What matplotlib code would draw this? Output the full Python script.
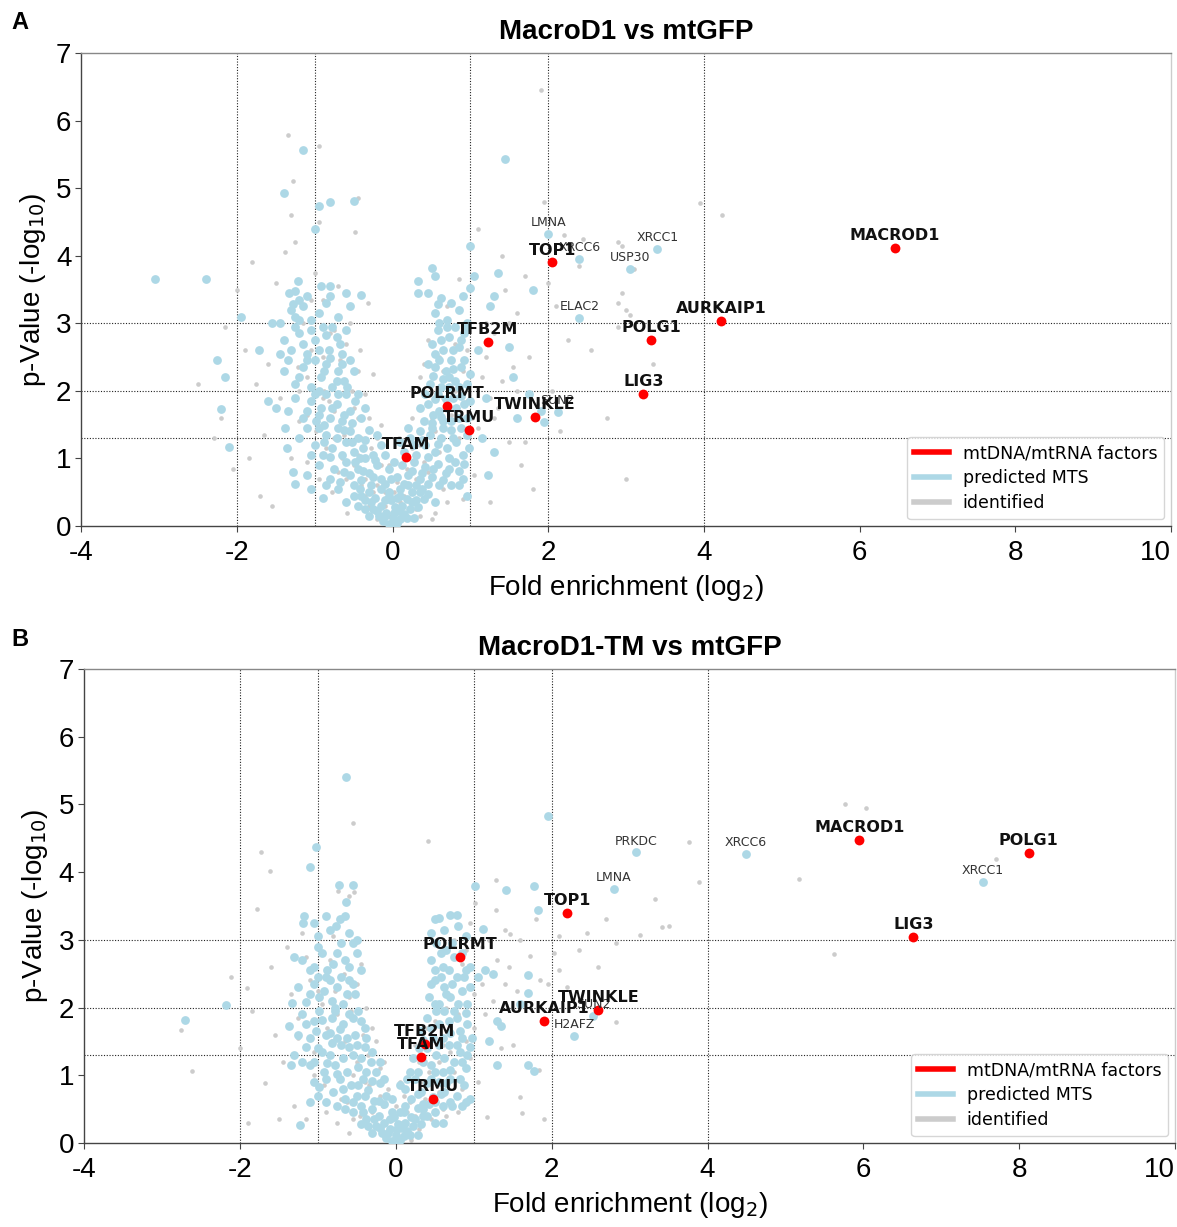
import matplotlib
matplotlib.use('Agg')
import matplotlib.pyplot as plt
from matplotlib.lines import Line2D

plt.rcParams['axes.unicode_minus'] = False

# ---------------- Panel A data (x = log2 fold enrichment, y = -log10 p) -------------
a_mts = [
    (-3.05, 3.65), (-2.4, 3.65), (-2.25, 2.45), (-2.15, 2.2), (-2.2, 1.73), (-2.1, 1.17),
    (-1.95, 3.1), (-1.72, 2.6), (-1.6, 1.85), (-1.55, 3.0), (-1.5, 1.75), (-1.45, 2.55),
    (-1.38, 1.45), (-1.33, 3.45), (-1.36, 1.15), (-1.28, 0.8), (-1.25, 0.62),
    (-1.15, 5.57), (-1.4, 4.93), (-0.95, 4.73), (-0.8, 4.8), (-0.5, 4.81), (-1.0, 4.4),
    (-1.22, 3.62), (-1.25, 3.48), (-1.2, 3.35), (-1.28, 3.28), (-0.92, 3.55), (-0.8, 3.55),
    (-0.8, 3.4), (-0.6, 3.45), (-0.4, 3.42), (-1.45, 3.0),
    (1.45, 5.43), (1.0, 4.15), (0.5, 3.82), (0.55, 3.7), (0.45, 3.45), (0.33, 3.62),
    (0.32, 3.45), (0.62, 3.38), (0.58, 3.28), (1.05, 3.7), (1.0, 3.52), (1.35, 3.75),
    (1.3, 3.4), (1.25, 3.25), (1.8, 3.5), (1.5, 2.65), (1.55, 2.2), (1.75, 1.95), (1.9, 1.7),
    (2.12, 1.69), (1.95, 1.54), (1.2, 1.9), (1.15, 1.3), (1.3, 1.1), (1.22, 0.75), (0.85, 0.6),
    (2.0, 4.32), (2.4, 3.95), (3.05, 3.8), (3.4, 4.1), (2.4, 3.08), (1.6, 1.6), (0.95, 0.45),
    (-0.9, 0.42),
    (-0.25, 0.25), (-0.18, 0.15), (-0.12, 0.08), (-0.05, 0.03), (0.0, 0.0), (0.05, 0.05),
    (0.1, 0.1), (0.15, 0.18), (0.22, 0.25), (-0.08, 0.2), (0.08, 0.22), (0.0, 0.12),
    (-0.15, 0.3), (0.12, 0.3), (0.03, 0.28), (-0.3, 0.15), (0.28, 0.12), (-0.02, 0.38),
    (-0.5, 0.45), (-0.42, 0.55), (-0.35, 0.38), (-0.3, 0.5), (-0.22, 0.42), (-0.15, 0.55),
    (-0.1, 0.38), (-0.05, 0.5), (0.05, 0.42), (0.1, 0.55), (0.18, 0.4), (0.25, 0.5),
    (0.3, 0.38), (0.38, 0.55), (0.45, 0.48), (-0.6, 0.35), (0.55, 0.35), (-0.28, 0.6), (0.2, 0.6),
    (-0.75, 0.85), (-0.68, 0.65), (-0.6, 0.95), (-0.55, 0.75), (-0.45, 0.85), (-0.4, 0.68),
    (-0.35, 1.0), (-0.3, 0.78), (-0.2, 0.9), (-0.15, 0.7), (-0.05, 0.85), (0.05, 0.72),
    (0.12, 0.9), (0.2, 0.75), (0.28, 0.95), (0.35, 0.7), (0.42, 0.88), (0.5, 0.72),
    (0.58, 0.92), (0.65, 0.68), (0.72, 0.85), (0.8, 0.95), (-0.85, 0.6), (0.9, 0.7), (-0.95, 0.9),
    (-1.0, 1.2), (-0.9, 1.05), (-0.85, 1.35), (-0.78, 1.15), (-0.7, 1.45), (-0.65, 1.05),
    (-0.6, 1.25), (-0.55, 1.4), (-0.5, 1.1), (-0.45, 1.3), (-0.38, 1.15), (-0.3, 1.42),
    (-0.25, 1.05), (-0.15, 1.2), (0.15, 1.1), (0.22, 1.3), (0.3, 1.05), (0.35, 1.4),
    (0.42, 1.2), (0.5, 1.45), (0.55, 1.1), (0.62, 1.3), (0.7, 1.15), (0.75, 1.42),
    (0.82, 1.25), (0.9, 1.05), (0.95, 1.35), (-1.1, 1.45),
    (-1.15, 1.6), (-1.05, 1.85), (-0.98, 1.55), (-0.92, 1.75), (-0.85, 1.95), (-0.8, 1.6),
    (-0.72, 1.8), (-0.65, 1.55), (-0.6, 1.95), (-0.55, 1.7), (-0.48, 1.85), (-0.4, 1.6),
    (0.4, 1.55), (0.45, 1.8), (0.52, 1.65), (0.58, 1.95), (0.65, 1.55), (0.7, 1.75),
    (0.78, 1.9), (0.85, 1.6), (0.92, 1.8), (0.6, 1.7), (-1.35, 1.7),
    (-1.25, 2.1), (-1.15, 2.35), (-1.05, 2.05), (-1.0, 2.45), (-0.92, 2.2), (-0.85, 2.4),
    (-0.78, 2.05), (-0.7, 2.3), (-0.62, 2.15), (-0.55, 2.45), (0.48, 2.1), (0.55, 2.35),
    (0.62, 2.05), (0.68, 2.3), (0.75, 2.45), (0.8, 2.15), (0.88, 2.35), (0.95, 2.1),
    (0.72, 2.2), (-1.4, 2.3),
    (-1.3, 2.6), (-1.2, 2.85), (-1.1, 2.55), (-1.0, 2.75), (-0.9, 2.95), (-0.82, 2.6),
    (-0.72, 2.8), (-0.65, 2.55), (0.5, 2.7), (0.58, 2.9), (0.65, 2.6), (0.72, 2.8),
    (0.8, 2.95), (0.85, 2.65), (0.92, 2.85), (1.1, 2.6),
    (-1.25, 3.1), (-1.15, 3.25), (-1.05, 3.05), (-0.95, 3.15), (-0.7, 3.1), (0.55, 3.15),
    (0.7, 3.05), (0.85, 3.2), (0.95, 3.0),
    (-0.35, 0.25), (-0.28, 0.35), (-0.2, 0.22), (-0.1, 0.15), (0.02, 0.2), (0.18, 0.12),
    (0.25, 0.35), (0.32, 0.28), (-0.4, 0.45), (0.4, 0.4), (-0.45, 0.3), (0.35, 0.5),
    (-0.05, 0.45), (0.1, 0.45),
    (-0.8, 0.7), (-0.7, 0.55), (-0.62, 0.8), (-0.5, 0.6), (-0.48, 0.95), (-0.38, 0.82),
    (-0.25, 0.72), (-0.22, 0.98), (-0.1, 0.62), (-0.02, 0.7), (0.02, 0.95), (0.15, 0.62),
    (0.25, 0.82), (0.3, 0.6), (0.38, 0.78), (0.45, 0.62), (0.52, 0.85), (0.6, 0.6),
    (0.68, 0.78), (0.75, 0.6), (0.85, 0.82), (0.92, 0.92), (-1.05, 0.55), (-1.1, 0.75),
    (-0.95, 1.45), (-0.88, 1.25), (-0.8, 1.02), (-0.72, 1.3), (-0.62, 1.42), (-0.52, 1.25),
    (-0.42, 1.0), (-0.35, 1.28), (-0.2, 1.35), (-0.1, 1.05), (0.1, 1.25), (0.2, 1.45),
    (0.28, 1.2), (0.38, 1.28), (0.45, 1.02), (0.48, 1.35), (0.58, 1.22), (0.65, 1.45),
    (0.72, 1.0), (0.78, 1.3), (0.88, 1.45), (0.98, 1.15), (-1.05, 1.05), (-1.2, 1.3),
    (-1.25, 1.9), (-1.1, 1.7), (-1.0, 1.95), (-0.95, 1.65), (-0.88, 1.5), (-0.78, 1.75),
    (-0.7, 1.95), (-0.62, 1.65), (-0.52, 1.52), (-0.45, 1.95), (-0.35, 1.75), (0.35, 1.75),
    (0.42, 1.95), (0.5, 1.52), (0.55, 1.88), (0.62, 1.62), (0.68, 1.88), (0.75, 1.55),
    (0.82, 1.75), (0.88, 1.92), (0.95, 1.6), (1.0, 1.85),
    (-1.35, 2.45), (-1.2, 2.2), (-1.1, 2.45), (-0.95, 2.0), (-0.88, 2.3), (-0.8, 2.48),
    (-0.72, 2.15), (-0.65, 2.4), (-0.58, 2.05), (-0.5, 2.3), (0.45, 2.4), (0.52, 2.22),
    (0.6, 2.45), (0.65, 2.18), (0.72, 2.05), (0.78, 2.32), (0.85, 2.05), (0.92, 2.45),
    (1.0, 2.25),
    (-1.4, 2.75), (-1.25, 2.95), (-1.15, 2.7), (-1.05, 2.9), (-0.95, 2.6), (-0.85, 2.82),
    (-0.78, 2.95), (-0.68, 2.7), (-0.6, 2.9), (0.55, 2.55), (0.62, 2.75), (0.7, 2.95),
    (0.78, 2.6), (0.88, 2.75), (0.95, 2.95),
    (-1.3, 3.2), (-1.2, 3.05), (-1.1, 3.4), (-0.85, 3.3), (-0.55, 3.25), (0.6, 3.0),
    (0.75, 3.3), (0.9, 3.4),
]

a_identified = [
    (-2.5, 2.1), (-2.3, 1.3), (-2.2, 1.6), (-2.15, 2.95), (-2.05, 0.85), (-2.0, 3.5),
    (-1.9, 2.6), (-1.85, 1.0), (-1.8, 3.9), (-1.75, 2.1), (-1.7, 0.45), (-1.65, 1.35),
    (-1.6, 2.4), (-1.55, 0.3), (-1.5, 3.6), (-1.45, 1.9), (-1.4, 2.75), (-1.38, 4.05),
    (-1.35, 5.78), (-1.3, 4.6), (-1.28, 5.1), (-1.25, 4.2), (-1.22, 2.35), (-1.2, 1.55),
    (-1.15, 3.0), (-1.1, 0.95), (-1.05, 2.6), (-1.0, 3.75), (-0.98, 1.4), (-0.95, 5.63),
    (-0.95, 4.5), (-0.9, 3.35), (-0.88, 2.0), (-0.85, 1.15), (-0.8, 2.85), (-0.78, 0.5),
    (-0.75, 1.7), (-0.7, 3.55), (-0.68, 2.45), (-0.45, 4.85), (-0.62, 1.35), (-0.58, 0.2),
    (-0.55, 3.0), (-0.52, 2.0), (-0.5, 0.9), (-0.48, 4.35), (-0.45, 1.6), (-0.42, 2.6),
    (-0.4, 0.6), (-0.35, 1.95), (-0.32, 3.3), (-0.3, 0.3), (-0.28, 1.15), (-0.25, 2.25),
    (-0.2, 0.6), (-0.15, 1.5), (-0.1, 0.3), (-0.05, 0.9), (0.02, 0.5), (0.08, 1.3),
    (0.12, 0.15), (0.18, 0.85), (0.25, 1.6), (0.3, 0.25), (0.35, 2.2), (0.4, 0.95),
    (0.45, 2.75), (0.5, 0.1), (0.55, 1.4), (0.6, 2.5), (0.65, 0.55), (0.7, 3.25),
    (0.75, 1.0), (0.8, 2.0), (0.85, 3.65), (0.9, 0.4), (0.95, 2.6), (1.0, 3.55),
    (1.02, 1.6), (1.1, 4.4), (1.15, 2.2), (1.2, 3.0), (1.25, 0.35), (1.3, 2.85),
    (1.35, 1.75), (1.4, 4.0), (1.45, 3.5), (1.5, 1.25), (1.55, 2.35), (1.6, 3.15),
    (1.65, 0.9), (1.7, 3.7), (1.75, 2.5), (1.8, 0.55), (1.85, 1.8), (1.9, 6.45),
    (1.95, 4.8), (2.0, 3.6), (2.05, 2.0), (2.1, 3.25), (2.15, 1.4), (2.2, 4.3),
    (2.25, 2.75), (2.4, 3.85), (2.45, 4.25), (2.55, 2.6), (2.9, 4.2), (2.75, 1.6),
    (2.95, 4.15), (2.9, 3.3), (2.9, 2.95), (3.0, 0.7), (2.95, 3.45), (3.1, 3.8),
    (3.0, 3.2), (3.05, 3.12), (3.95, 4.78), (4.23, 4.6), (3.35, 2.4), (-0.65, 1.0),
    (-0.35, 0.45), (-0.2, 0.1), (0.15, 0.45), (0.35, 0.15), (-0.6, 0.7), (-0.9, 1.9),
    (-1.1, 2.2), (-0.75, 2.9), (0.4, 2.4), (0.65, 1.9), (0.25, 1.15), (-0.45, 1.05),
    (-1.3, 1.0), (-1.2, 2.0), (-1.1, 1.65), (-1.05, 3.35), (-0.95, 0.7), (-0.9, 2.5),
    (-0.82, 1.85), (-0.75, 1.3), (-0.7, 0.8), (-0.65, 2.15), (-0.6, 2.7), (-0.55, 1.45),
    (-0.5, 1.75), (-0.45, 2.3), (-0.4, 1.3), (-0.35, 0.7), (-0.3, 1.6), (-0.25, 0.5),
    (-0.2, 1.3), (-0.15, 0.9), (-0.1, 0.5), (-0.05, 0.15), (0.05, 0.65), (0.1, 0.35),
    (0.2, 1.0), (0.25, 0.1), (0.3, 0.7), (0.35, 1.2), (0.45, 0.8), (0.5, 1.6),
    (0.55, 0.2), (0.6, 1.1), (0.65, 2.3), (0.7, 0.35), (0.75, 1.65), (0.8, 2.7),
    (0.85, 1.3), (0.9, 2.3), (0.95, 1.85), (1.05, 0.75), (1.1, 1.45), (1.2, 2.5),
    (1.3, 1.6), (1.4, 2.15), (1.5, 3.0), (1.6, 2.0), (1.7, 1.25), (1.25, 1.9),
]

# red: mtDNA/mtRNA factors
a_factor_names = ['TOP1', 'MACROD1', 'AURKAIP1', 'POLG1', 'LIG3', 'TFB2M',
                  'POLRMT', 'TWINKLE', 'TRMU', 'TFAM']
a_factor_x = [2.05, 6.45, 4.22, 3.32, 3.22, 1.22, 0.7, 1.83, 0.98, 0.17]
a_factor_y = [3.9, 4.12, 3.04, 2.75, 1.95, 2.72, 1.78, 1.62, 1.42, 1.02]

# small labelled MTS proteins
a_small_names = ['LMNA', 'XRCC6', 'USP30', 'XRCC1', 'ELAC2', 'SUN2']
a_small_x = [2.0, 2.4, 3.05, 3.4, 2.4, 2.12]
a_small_y = [4.32, 3.95, 3.8, 4.1, 3.08, 1.69]

# ---------------- Panel B data -------------
b_mts = [
    (-0.64, 5.4), (1.95, 4.83), (-1.02, 4.37), (-1.1, 4.08), (-0.73, 3.81), (-0.55, 3.81),
    (-0.64, 3.56), (1.02, 3.8), (1.41, 3.74), (1.77, 3.79), (1.82, 3.44), (-2.7, 1.81),
    (-2.18, 2.04), (-1.23, 0.26), (1.3, 1.15), (1.77, 1.06), (1.7, 1.15), (2.29, 1.58),
    (2.53, 1.88), (3.08, 4.29), (4.49, 4.27), (7.53, 3.86), (2.8, 3.75), (1.6, 2.05),
    (1.2, 1.5),
    (-0.25, 0.25), (-0.18, 0.15), (-0.12, 0.08), (-0.05, 0.03), (0.0, 0.0), (0.05, 0.05),
    (0.1, 0.1), (0.15, 0.18), (0.22, 0.25), (-0.08, 0.2), (0.08, 0.22), (0.0, 0.12),
    (-0.15, 0.3), (0.12, 0.3), (0.03, 0.28), (-0.3, 0.15), (0.28, 0.12), (-0.02, 0.38),
    (-0.55, 0.45), (-0.45, 0.55), (-0.38, 0.35), (-0.3, 0.5), (-0.22, 0.4), (-0.15, 0.58),
    (-0.08, 0.35), (0.05, 0.45), (0.12, 0.55), (0.2, 0.38), (0.28, 0.52), (0.35, 0.4),
    (0.42, 0.58), (0.5, 0.45), (0.6, 0.55), (0.7, 0.6), (-0.65, 0.5), (0.85, 0.55),
    (-0.8, 0.75), (-0.72, 0.95), (-0.65, 0.65), (-0.58, 0.85), (-0.5, 0.7), (-0.42, 0.95),
    (-0.35, 0.78), (-0.28, 0.62), (-0.2, 0.88), (-0.12, 0.7), (0.12, 0.8), (0.2, 0.65),
    (0.25, 0.95), (0.32, 0.75), (0.4, 0.88), (0.48, 0.68), (0.55, 0.9), (0.62, 0.75),
    (0.7, 0.95), (0.78, 0.7), (0.88, 0.85), (0.95, 0.65), (-0.9, 0.95), (-1.0, 0.7),
    (-1.05, 0.9),
    (-1.1, 1.15), (-1.0, 1.4), (-0.92, 1.05), (-0.85, 1.3), (-0.78, 1.15), (-0.7, 1.45),
    (-0.62, 1.05), (-0.55, 1.3), (-0.48, 1.12), (-0.4, 1.42), (-0.32, 1.2), (-0.25, 1.05),
    (0.22, 1.25), (0.28, 1.05), (0.4, 1.4), (0.45, 1.15), (0.52, 1.3), (0.6, 1.05),
    (0.68, 1.45), (0.75, 1.2), (0.82, 1.35), (0.9, 1.1), (0.95, 1.42), (-1.3, 1.3),
    (-1.35, 1.15), (-1.2, 1.2),
    (-1.1, 1.55), (-1.05, 1.8), (-0.98, 1.95), (-0.9, 1.6), (-0.82, 1.85), (-0.75, 1.55),
    (-0.68, 1.75), (-0.6, 1.9), (-0.52, 1.6), (-0.45, 1.8), (-0.38, 1.55), (0.32, 1.65),
    (0.4, 1.85), (0.48, 1.55), (0.55, 1.75), (0.62, 1.95), (0.7, 1.62), (0.78, 1.85),
    (0.85, 1.55), (0.92, 1.75), (-1.37, 1.73), (-1.2, 1.9), (1.3, 1.8), (1.35, 1.72),
    (-1.15, 2.08), (-1.05, 2.35), (-0.98, 2.15), (-0.9, 2.45), (-0.82, 2.1), (-0.75, 2.3),
    (-0.68, 2.05), (-0.6, 2.4), (-0.52, 2.2), (0.42, 2.15), (0.5, 2.4), (0.55, 2.05),
    (0.62, 2.3), (0.7, 2.15), (0.78, 2.45), (0.85, 2.25), (0.92, 2.05), (-1.33, 2.07),
    (1.05, 2.45), (1.25, 2.5), (1.7, 2.48), (1.7, 2.22),
    (-1.3, 2.75), (-1.1, 2.55), (-1.0, 2.9), (-0.8, 2.65), (-0.7, 2.95), (-0.6, 2.6),
    (-0.5, 2.8), (-0.45, 2.55), (0.45, 2.7), (0.52, 2.95), (0.6, 2.6), (0.65, 2.85),
    (0.75, 2.75), (0.95, 2.6), (1.15, 2.55),
    (-1.18, 3.35), (-1.19, 3.25), (-1.0, 3.05), (-0.85, 3.15), (-0.72, 3.3), (-0.77, 3.2),
    (-0.6, 3.1), (-0.5, 3.0), (0.56, 3.32), (0.69, 3.37), (0.78, 3.37), (1.12, 3.16),
    (0.45, 3.1), (0.9, 3.05),
    (-0.35, 0.25), (-0.28, 0.35), (-0.2, 0.22), (-0.1, 0.15), (0.02, 0.2), (0.18, 0.12),
    (0.25, 0.35), (0.32, 0.28), (-0.42, 0.45), (0.4, 0.4), (-0.45, 0.28), (0.35, 0.5),
    (-0.05, 0.45), (0.1, 0.45), (0.5, 0.3), (0.6, 0.3),
    (-0.9, 0.6), (-0.75, 0.55), (-0.68, 0.8), (-0.55, 0.6), (-0.48, 0.85), (-0.4, 0.7),
    (-0.3, 0.92), (-0.22, 0.62), (-0.15, 0.95), (-0.05, 0.65), (0.05, 0.85), (0.15, 0.95),
    (0.28, 0.72), (0.35, 0.58), (0.45, 0.95), (0.5, 0.6), (0.58, 0.72), (0.65, 0.88),
    (0.72, 0.55), (0.82, 0.95), (0.9, 0.6), (-1.1, 0.6), (-0.98, 0.82),
    (-1.15, 1.42), (-1.05, 1.2), (-0.95, 1.35), (-0.88, 1.18), (-0.82, 1.48), (-0.75, 1.02),
    (-0.68, 1.25), (-0.6, 1.42), (-0.5, 1.45), (-0.45, 1.25), (-0.38, 1.05), (-0.3, 1.35),
    (-0.2, 1.2), (0.18, 1.05), (0.3, 1.4), (0.35, 1.2), (0.5, 1.05), (0.55, 1.45),
    (0.62, 1.25), (0.7, 1.08), (0.78, 1.45), (0.85, 1.2), (0.92, 1.3),
    (-1.25, 1.6), (-1.15, 1.75), (-1.02, 1.65), (-0.95, 1.82), (-0.85, 1.62), (-0.78, 1.95),
    (-0.72, 1.68), (-0.62, 1.55), (-0.55, 1.85), (-0.48, 1.95), (-0.4, 1.7), (0.35, 1.52),
    (0.45, 1.7), (0.52, 1.95), (0.6, 1.55), (0.68, 1.8), (0.75, 1.95), (0.82, 1.65),
    (0.9, 1.92), (0.98, 1.55),
    (-1.25, 2.3), (-1.1, 2.2), (-1.0, 2.45), (-0.92, 2.25), (-0.85, 2.4), (-0.78, 2.0),
    (-0.7, 2.45), (-0.62, 2.2), (-0.55, 2.35), (0.45, 2.35), (0.5, 2.05), (0.58, 2.45),
    (0.65, 2.2), (0.72, 2.35), (0.8, 2.05), (0.88, 2.45), (0.95, 2.3),
    (-1.2, 2.7), (-1.05, 2.6), (-0.95, 2.8), (-0.88, 2.55), (-0.75, 2.8), (-0.65, 2.7),
    (-0.55, 2.95), (0.5, 2.55), (0.58, 2.8), (0.68, 2.55), (0.72, 2.95), (0.85, 2.8),
    (0.9, 2.55),
    (-1.05, 3.25), (-0.9, 3.35), (-0.65, 3.35), (0.5, 3.3), (0.62, 3.15), (0.8, 3.2),
]

b_identified = [
    (-2.75, 1.67), (-2.62, 1.06), (-2.12, 2.45), (-1.91, 2.29), (-1.68, 0.89), (-1.5, 0.36),
    (-1.73, 4.3), (-1.62, 4.02), (-0.55, 4.72), (0.41, 4.46), (-1.78, 3.46), (1.29, 3.88),
    (1.29, 3.44), (1.02, 3.55), (-0.74, 3.72), (-0.6, 3.65), (-0.53, 3.7), (5.76, 5.0),
    (6.04, 4.95), (3.76, 4.45), (3.89, 3.85), (3.32, 3.6), (5.18, 3.9), (7.7, 4.2),
    (3.42, 3.19), (3.51, 3.2), (3.13, 3.07), (2.82, 2.96), (5.62, 2.79), (2.82, 1.79),
    (-1.6, 2.6), (-1.45, 1.2), (-1.4, 2.9), (-1.3, 0.55), (-1.25, 1.85), (-1.2, 3.1),
    (-1.15, 0.35), (-1.1, 2.4), (-1.05, 1.0), (-0.95, 2.05), (-0.9, 0.45), (-0.85, 2.7),
    (-0.82, 1.5), (-0.78, 2.25), (-0.75, 0.3), (-0.7, 1.25), (-0.66, 2.5), (-0.62, 0.6),
    (-0.58, 1.95), (-0.55, 1.0), (-0.5, 2.35), (-0.46, 0.4), (-0.42, 1.6), (-0.38, 2.0),
    (-0.34, 0.85), (-0.3, 1.7), (-0.25, 0.25), (-0.2, 1.1), (-0.16, 0.55), (-0.1, 0.8),
    (-0.05, 0.2), (0.05, 0.3), (0.1, 0.7), (0.15, 0.45), (0.2, 1.05), (0.25, 1.45),
    (0.3, 0.2), (0.35, 0.9), (0.4, 1.7), (0.45, 0.35), (0.5, 2.55), (0.55, 1.2),
    (0.6, 0.5), (0.65, 2.0), (0.7, 1.35), (0.75, 3.0), (0.8, 0.45), (0.85, 2.65),
    (0.9, 1.5), (0.95, 3.25), (1.0, 2.2), (1.05, 0.9), (1.1, 2.9), (1.15, 1.9),
    (1.17, 0.39), (1.3, 2.7), (1.4, 2.35), (1.5, 1.45), (1.46, 3.09), (1.6, 0.68),
    (1.62, 0.44), (1.72, 2.76), (1.84, 1.07), (1.8, 3.3), (1.85, 2.4), (1.9, 0.35),
    (2.03, 2.8), (2.1, 3.05), (2.2, 2.3), (2.35, 2.85), (2.45, 3.1), (2.6, 2.6),
    (2.7, 3.3), (1.4, 3.15), (0.2, 0.05), (-0.6, 0.15), (-1.85, 1.95), (-1.9, 0.3),
    (-2.0, 1.4), (-1.55, 1.6),
    (-1.35, 2.2), (-1.25, 1.55), (-1.15, 2.75), (-1.05, 1.35), (-1.0, 2.25), (-0.92, 0.85),
    (-0.88, 1.7), (-0.8, 3.05), (-0.75, 1.9), (-0.7, 0.65), (-0.65, 1.5), (-0.6, 2.15),
    (-0.55, 0.35), (-0.5, 1.2), (-0.45, 2.65), (-0.4, 0.9), (-0.35, 1.3), (-0.3, 0.45),
    (-0.25, 1.5), (-0.2, 0.7), (-0.15, 1.2), (-0.1, 0.35), (0.0, 0.55), (0.05, 0.9),
    (0.12, 0.2), (0.18, 0.6), (0.25, 0.4), (0.3, 1.2), (0.38, 0.65), (0.42, 1.05),
    (0.5, 1.8), (0.55, 0.75), (0.6, 1.45), (0.65, 0.4), (0.7, 2.55), (0.75, 1.05),
    (0.8, 1.9), (0.85, 0.8), (0.9, 2.85), (0.95, 1.25), (1.0, 1.7), (1.1, 2.35),
    (1.2, 3.0), (1.25, 2.1), (1.35, 1.4), (1.45, 2.6), (1.55, 2.25), (1.6, 3.0),
    (1.95, 2.35), (2.1, 2.55),
]

b_factor_names = ['MACROD1', 'POLG1', 'LIG3', 'TOP1', 'POLRMT', 'TWINKLE',
                  'AURKAIP1', 'TFB2M', 'TFAM', 'TRMU']
b_factor_x = [5.95, 8.12, 6.64, 2.2, 0.82, 2.6, 1.9, 0.37, 0.33, 0.48]
b_factor_y = [4.47, 4.28, 3.04, 3.4, 2.75, 1.97, 1.8, 1.46, 1.27, 0.65]

b_small_names = ['PRKDC', 'XRCC6', 'XRCC1', 'LMNA', 'SUN2', 'H2AFZ']
b_small_x = [3.08, 4.49, 7.53, 2.8, 2.53, 2.29]
b_small_y = [4.29, 4.27, 3.86, 3.75, 1.88, 1.58]

vlines = [-2, -1, 1, 2, 4]
hlines = [1.3, 2, 3]
x_ticks = [-4, -2, 0, 2, 4, 6, 8, 10]
y_ticks = [0, 1, 2, 3, 4, 5, 6, 7]
legend_labels = ['mtDNA/mtRNA factors', 'predicted MTS', 'identified']

RED = '#ff0000'
BLUE = '#add8e6'
GRAY = '#cccccc'
SANS = 'Liberation Sans'


def panel(ax, gray, blue, fn, fx, fy, sn, sx, sy, title):
    for v in vlines:
        ax.axvline(v, color='#222222', ls=(0, (1, 1.5)), lw=0.8, zorder=1)
    for h in hlines:
        ax.axhline(h, color='#222222', ls=(0, (1, 1.5)), lw=0.8, zorder=1)
    gx, gy = zip(*gray)
    bx, by = zip(*blue)
    ax.scatter(gx, gy, s=11, color=GRAY, lw=0, zorder=2)
    ax.scatter(bx, by, s=40, color=BLUE, lw=0, zorder=3)
    ax.scatter(fx, fy, s=50, color=RED, lw=0, zorder=5)
    for n, x, y in zip(sn, sx, sy):
        ax.annotate(n, (x, y), xytext=(0, 3.5), textcoords='offset points',
                    ha='center', va='bottom', fontsize=9, color='#333333',
                    family='DejaVu Sans', zorder=6)
    for n, x, y in zip(fn, fx, fy):
        ax.annotate(n, (x, y), xytext=(0, 3.5), textcoords='offset points',
                    ha='center', va='bottom', fontsize=11.5, fontweight='bold',
                    color='#111111', family='DejaVu Sans', zorder=7)
    ax.set_xlim(-4, 10)
    ax.set_ylim(0, 7)
    ax.set_xticks(x_ticks)
    ax.set_yticks(y_ticks)
    xl = ax.set_xticklabels([str(t) for t in x_ticks], family=SANS, fontsize=20)
    xl[-1].set_horizontalalignment('right')
    ax.set_yticklabels([str(t) for t in y_ticks], family=SANS, fontsize=20)
    ax.tick_params(axis='both', length=4, width=0.8, color='#444444', pad=3)
    ax.tick_params(axis='x', pad=6)
    ax.spines['left'].set_color('#444444')
    ax.spines['bottom'].set_color('#444444')
    ax.spines['top'].set_color('#888888')
    ax.spines['right'].set_color('#cccccc')
    for sp in ax.spines.values():
        sp.set_linewidth(1.0)
    ax.set_xlabel('Fold enrichment (log$_2$)', family=SANS, fontsize=20, labelpad=5)
    ax.set_ylabel('p-Value (-log$_{10}$)', family=SANS, fontsize=20, labelpad=6)
    ax.set_title(title, family=SANS, fontsize=20, fontweight='bold', pad=10)
    handles = [Line2D([], [], color=c, lw=4) for c in (RED, BLUE, GRAY)]
    leg = ax.legend(handles, legend_labels, loc='lower right', fontsize=12.5,
                    frameon=True, fancybox=True, edgecolor='#cccccc',
                    borderaxespad=0.4, handlelength=2.0, labelspacing=0.4)
    leg.set_zorder(10)


fig = plt.figure(figsize=(11.77, 12.27), dpi=100)
axA = fig.add_axes([0.069, 0.5713, 0.926, 0.3855])
axB = fig.add_axes([0.0714, 0.0685, 0.927, 0.3863])

panel(axA, a_identified, a_mts, a_factor_names, a_factor_x, a_factor_y,
      a_small_names, a_small_x, a_small_y, 'MacroD1 vs mtGFP')
panel(axB, b_identified, b_mts, b_factor_names, b_factor_x, b_factor_y,
      b_small_names, b_small_x, b_small_y, 'MacroD1-TM vs mtGFP')

fig.text(0.010, 0.982, 'A', family=SANS, fontsize=17, fontweight='bold', va='center')
fig.text(0.010, 0.479, 'B', family=SANS, fontsize=17, fontweight='bold', va='center')

fig.savefig('out.png', dpi=100)
